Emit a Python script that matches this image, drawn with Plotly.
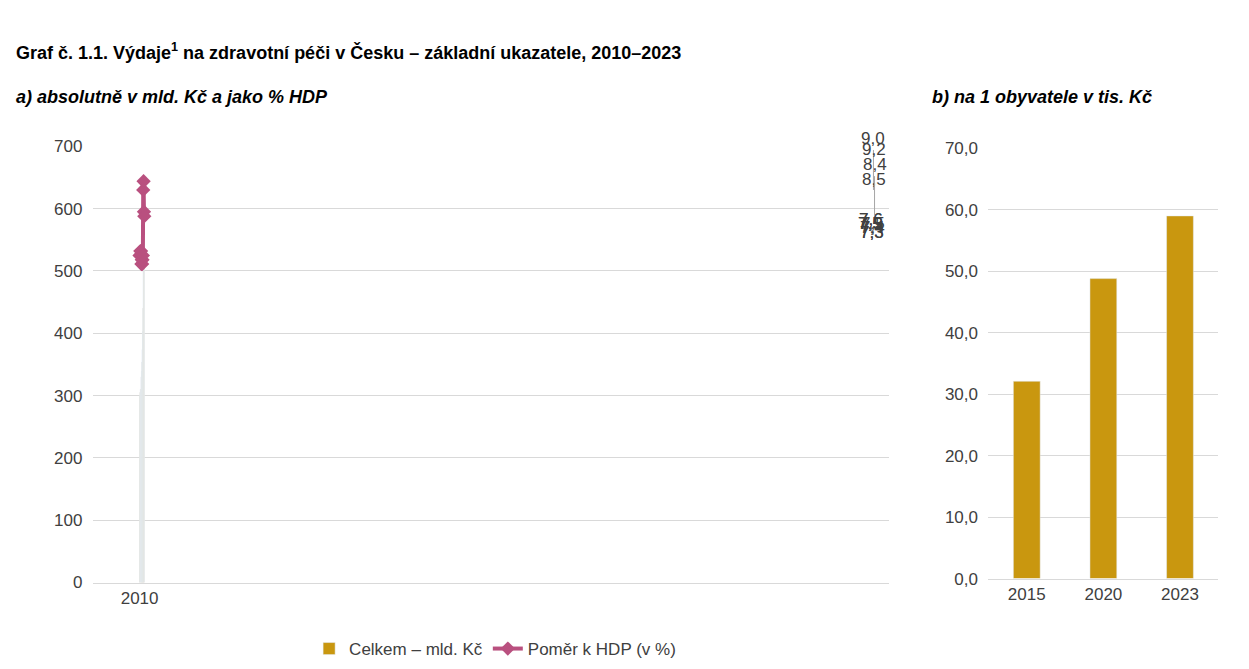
import plotly.graph_objects as go

years = [str(y) for y in range(2010, 2024)]
celkem = [301, 305, 310, 310, 330, 339, 354, 374, 403, 440, 522, 577, 600, 641]
pomer = [7.5, 7.5, 7.6, 7.5, 7.6, 7.3, 7.4, 7.3, 7.4, 7.5, 9.0, 9.2, 8.5, 8.4]
years_b = ["2015", "2020", "2023"]
na_obyv = [32.1, 48.8, 59.0]

BAR = "#C9970F"
LINE = "#B9507F"
FONT = "Liberation Sans, Arial, sans-serif"

fig = go.Figure()
fig.add_trace(go.Bar(x=years, y=celkem, name="Celkem – mld. Kč", marker_color=BAR,
                     width=0.35, xaxis="x", yaxis="y"))
fig.add_trace(go.Scatter(x=years, y=pomer, name="Poměr k HDP (v %)", mode="lines+markers",
                         line=dict(color=LINE, width=4),
                         marker=dict(symbol="diamond", size=11, color=LINE),
                         xaxis="x", yaxis="y2"))
fig.add_trace(go.Bar(x=years_b, y=na_obyv, marker_color=BAR, width=0.35,
                     showlegend=False, xaxis="x3", yaxis="y3"))

ann = []
for yr, v in zip(years, pomer):
    txt = f"{v:.1f}".replace(".", ",")
    if yr in ("2020", "2023"):
        ann.append(dict(x=yr, y=v, xref="x", yref="y2", text=txt, showarrow=True,
                        ax=0, ay=-40, arrowhead=0, arrowcolor="#A6A6A6", arrowwidth=1,
                        yanchor="bottom", font=dict(size=17, color="#404040")))
    else:
        ann.append(dict(x=yr, y=v, xref="x", yref="y2", text=txt, showarrow=False,
                        yshift=32, font=dict(size=17, color="#404040")))
ann += [
    dict(x=0.005, y=0.967, xref="paper", yref="paper", xanchor="left", showarrow=False,
         text="<b>Graf č. 1.1. Výdaje<sup>1</sup> na zdravotní péči v Česku – základní ukazatele, 2010–2023</b>",
         font=dict(size=18, color="#000")),
    dict(x=0.005, y=0.895, xref="paper", yref="paper", xanchor="left", showarrow=False,
         text="<b><i>a) absolutně v mld. Kč a jako % HDP</i></b>", font=dict(size=18, color="#000")),
    dict(x=0.738, y=0.895, xref="paper", yref="paper", xanchor="left", showarrow=False,
         text="<b><i>b) na 1 obyvatele v tis. Kč</i></b>", font=dict(size=18, color="#000")),
]

grid = "#D9D9D9"
fig.update_layout(
    width=1249, height=669, margin=dict(l=0, r=0, t=0, b=0),
    plot_bgcolor="white", paper_bgcolor="white",
    font=dict(family=FONT, size=17, color="#404040"),
    annotations=ann,
    legend=dict(orientation="h", x=0.39, y=0.0, xanchor="center", yanchor="bottom",
                font=dict(size=17)),
    xaxis=dict(type="category", domain=[0.068, 0.705], showgrid=False, showline=True,
               linecolor=grid, anchor="y"),
    yaxis=dict(domain=[0.13, 0.801], range=[0, 700], dtick=100, gridcolor=grid,
               zeroline=False, ticksuffix="  ", anchor="x"),
    yaxis2=dict(domain=[0.13, 0.801], range=[0, 10], overlaying="y", anchor="x",
                visible=False),
    xaxis3=dict(type="category", domain=[0.785, 0.969], showgrid=False, showline=True,
                linecolor=grid, anchor="y3"),
    yaxis3=dict(domain=[0.136, 0.798], range=[0, 70], dtick=10, tickformat=".1f",
                gridcolor=grid, zeroline=False, anchor="x3", ticksuffix="  "),
    separators=",",
)
fig.write_html("out.html")
